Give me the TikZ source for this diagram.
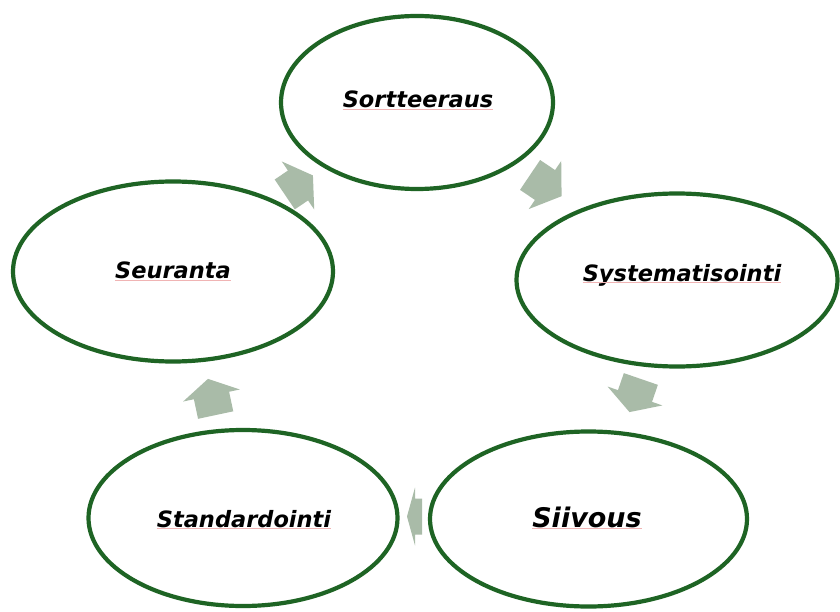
\documentclass[tikz,border=0pt]{standalone}
\usepackage{fontspec}
\setmainfont{DejaVu Sans}
\usetikzlibrary{shapes.geometric}
\definecolor{ringgreen}{RGB}{30,100,36}
\definecolor{arrowfill}{RGB}{169,187,168}
\definecolor{spellred}{RGB}{240,180,180}
\tikzset{
  ring/.style={draw=ringgreen, line width=4.2pt, fill=white, ellipse, inner sep=0pt},
  lbl/.style={font=\fontsize{22.5}{26}\selectfont\bfseries\itshape, inner sep=0pt, anchor=base},
  biglbl/.style={lbl, font=\fontsize{27}{31}\selectfont\bfseries\itshape},
  spell/.style={draw=spellred, line width=0.7pt},
  pics/blockarrow/.style 2 args={code={
    \fill[arrowfill] (-#1pt,-18pt) -- (0pt,-18pt) -- (0pt,-29pt) -- (#2pt,0pt)
      -- (0pt,29pt) -- (0pt,18pt) -- (-#1pt,18pt) -- cycle;}}
}
\begin{document}
\begin{tikzpicture}[x=1pt,y=-1pt]
\useasboundingbox[fill=white] (0,0) rectangle (840,612);
% rings
\node[ring, minimum width=272pt, minimum height=173pt] (e1) at (417,102.5) {};
\node[ring, minimum width=321pt, minimum height=173pt] (e2) at (677,280) {};
\node[ring, minimum width=317pt, minimum height=175pt] (e3) at (588.5,519) {};
\node[ring, minimum width=309pt, minimum height=176pt] (e4) at (243,518) {};
\node[ring, minimum width=320pt, minimum height=180pt] (e5) at (173,271.5) {};
% arrows
\pic[rotate=34] at (298,185.5) {blockarrow={16}{18}};
\pic[rotate=-34] at (545,185) {blockarrow={18}{20}};
\pic[rotate=-109] at (635,396) {blockarrow={18}{17}};
\pic[rotate=180] at (415,516.5) {blockarrow={7}{8}};
\pic[rotate=102] at (211.5,395.5) {blockarrow={20}{17}};
% labels
\node[lbl] (t1) at (418,108) {Sortteeraus};
\node[lbl] (t2) at (682,281) {Systematisointi};
\node[biglbl] (t3) at (587,527) {Siivous};
\node[lbl] (t4) at (244,527) {Standardointi};
\node[lbl] (t5) at (173,279) {Seuranta};
% spell-check underlines
\foreach \t in {t1,t2,t3,t4,t5}{
  \draw[spell] ([yshift=-1.6pt]\t.base west) -- ([yshift=-1.6pt]\t.base east);
}
\end{tikzpicture}
\end{document}
